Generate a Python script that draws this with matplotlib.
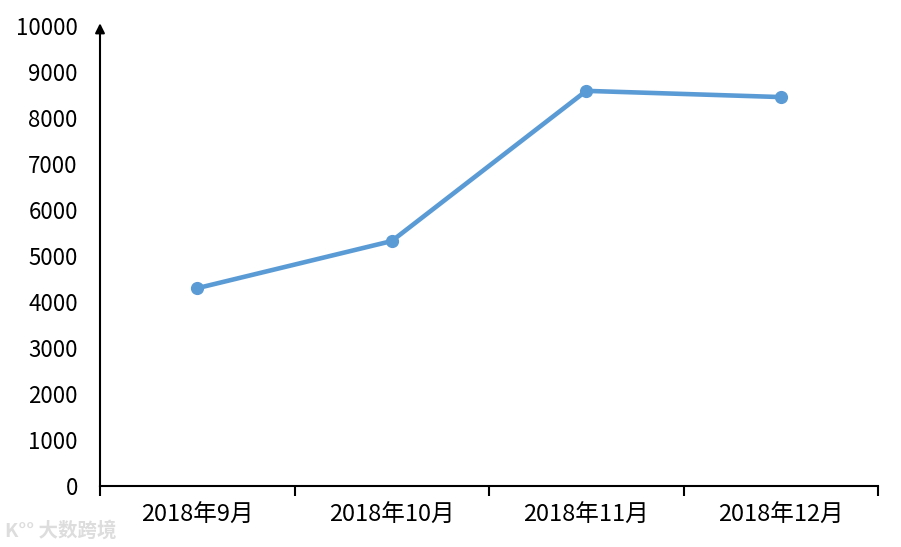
import numpy as np
import matplotlib.pyplot as plt

plt.rcParams['font.family'] = ['Noto Sans CJK SC', 'DejaVu Sans']

# datos
meses = ['2018年9月', '2018年10月', '2018年11月', '2018年12月']
valores = [4300, 5325, 8590, 8455]
yticks = [0, 1000, 2000, 3000, 4000, 5000, 6000, 7000, 8000, 9000, 10000]

fig = plt.figure(figsize=(9.01, 5.47), dpi=100)
ax = fig.add_axes([100/901, 61/547, 778/901, 460/547])

x = np.arange(len(meses))
ax.plot(x, valores, color='#5B9BD5', linewidth=3.3, marker='o', markersize=8.5)

ax.set_xlim(-0.5, len(meses) - 0.5)
ax.set_ylim(0, 10000)

# ejes
for s in ['top', 'right']:
    ax.spines[s].set_visible(False)
ax.spines['left'].set_linewidth(1.5)
ax.spines['bottom'].set_linewidth(1.5)
ax.annotate('', xy=(0, 1.012), xytext=(0, 0.98), xycoords='axes fraction',
            arrowprops=dict(arrowstyle='-|>', color='black', lw=1.5,
                            mutation_scale=14), annotation_clip=False)

ax.set_yticks(yticks)
ax.set_yticklabels([str(v) for v in yticks])
ax.tick_params(axis='y', length=0, pad=16, labelsize=16)

# ticks entre categorias, etiquetas en el centro
ax.set_xticks(np.arange(-0.5, len(meses)))
ax.set_xticklabels([])
ax.set_xticks(x, minor=True)
ax.set_xticklabels(meses, minor=True)
ax.tick_params(axis='x', which='major', direction='out', length=7, width=1.5)
ax.tick_params(axis='x', which='minor', length=0, pad=13, labelsize=17)

# marca de agua
fig.text(0.005, 0.03, 'K°° 大数跨境', fontsize=14, color='#dddddd',
         fontweight='bold', va='center', ha='left')

fig.savefig('out.png', dpi=100)
